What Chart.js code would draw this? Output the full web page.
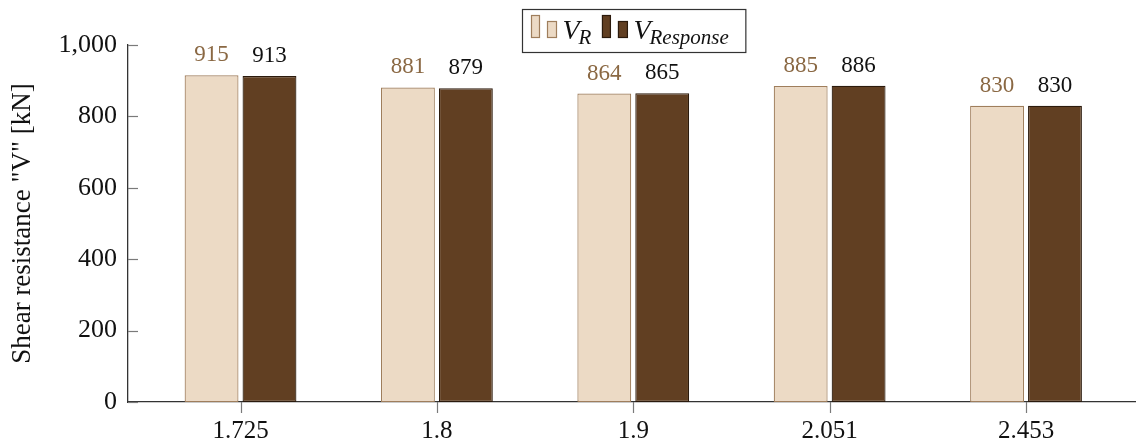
<!DOCTYPE html>
<html>
<head>
<meta charset="utf-8">
<script src="https://cdn.jsdelivr.net/npm/chart.js@4.4.1/dist/chart.umd.min.js"></script>
<style>
    html, body { margin: 0; padding: 0; background: #fff; }
    #chart { display: block; }
</style>
</head>
<body>
<canvas id="chart" width="1137" height="444"></canvas>
<script>
const categories = ['1.725', '1.8', '1.9', '2.051', '2.453']
const vR = [915, 881, 864, 885, 830]
const vResponse = [913, 879, 865, 886, 830]
const yTicks = [0, 200, 400, 600, 800, 1000]

const FONT = "'Liberation Serif', 'Times New Roman', serif"

const light = { fill: '#ecdac5', border: '#9f7e5c', label: '#8a6843' }
const dark = { fill: '#613f22', border: '#2b1a0c', label: '#111111' }

// short ticks: y ticks point into the plot, x ticks hang below the axis
const axisTicks = {
    id: 'axisTicks',
    afterDraw(chart) {
        const { ctx, chartArea, scales } = chart
        ctx.save()
        ctx.strokeStyle = '#7a7a7a'
        ctx.lineWidth = 1.2
        yTicks.forEach(v => {
            const y = Math.round(scales.y.getPixelForValue(v)) + 0.5
            ctx.beginPath()
            ctx.moveTo(chartArea.left, y)
            ctx.lineTo(chartArea.left + 10, y)
            ctx.stroke()
        })
        categories.forEach((_, i) => {
            const x = Math.round(scales.x.getPixelForValue(i)) + 0.5
            ctx.beginPath()
            ctx.moveTo(x, chartArea.bottom)
            ctx.lineTo(x, chartArea.bottom + 11)
            ctx.stroke()
        })
        ctx.restore()
    }
}

// value labels above each bar
const barLabels = {
    id: 'barLabels',
    afterDatasetsDraw(chart) {
        const { ctx } = chart
        ctx.save()
        ctx.font = '23px ' + FONT
        ctx.textAlign = 'center'
        ctx.textBaseline = 'alphabetic'
        chart.data.datasets.forEach((ds, di) => {
            const meta = chart.getDatasetMeta(di)
            ctx.fillStyle = ds.labelColor
            meta.data.forEach((bar, i) => {
                ctx.fillText(String(ds.data[i].y), bar.x, bar.y - 14)
            })
        })
        ctx.restore()
    }
}

// boxed legend with the two-bar glyph and math-style names
const barLegend = {
    id: 'barLegend',
    afterDraw(chart) {
        const { ctx, chartArea } = chart
        const mainFont = 'italic 28px ' + FONT
        const subFont = 'italic 21px ' + FONT
        const entries = chart.data.datasets.map(ds => ({ ds, sub: ds.label.slice(2) }))
        ctx.save()
        const glyphW = 8 + 8 + 9 + 6
        const widths = entries.map(e => {
            ctx.font = mainFont
            const w1 = ctx.measureText('V').width
            ctx.font = subFont
            return glyphW + w1 + ctx.measureText(e.sub).width
        })
        const gap = 10
        const boxW = 9 + widths.reduce((a, b) => a + b, 0) + gap * (entries.length - 1) + 16
        const boxH = 43
        const cx = (chartArea.left + chartArea.right) / 2 + 2
        const bx = Math.round(cx - boxW / 2) + 0.5
        const by = 9.5
        ctx.fillStyle = '#fff'
        ctx.fillRect(bx, by, boxW, boxH)
        ctx.strokeStyle = '#333'
        ctx.lineWidth = 1.2
        ctx.strokeRect(bx, by, boxW, boxH)

        let x = bx + 9
        const base = by + 28
        entries.forEach((e, i) => {
            const ds = e.ds
            ctx.fillStyle = ds.backgroundColor
            ctx.strokeStyle = ds.borderColor
            ctx.lineWidth = 1.2
            ctx.fillRect(x, base - 22, 8, 22)
            ctx.strokeRect(x, base - 22, 8, 22)
            ctx.fillRect(x + 16, base - 16, 9, 16)
            ctx.strokeRect(x + 16, base - 16, 9, 16)
            let tx = x + glyphW
            ctx.fillStyle = '#111'
            ctx.textBaseline = 'alphabetic'
            ctx.textAlign = 'left'
            ctx.font = mainFont
            ctx.fillText('V', tx, base + 1)
            tx += ctx.measureText('V').width - 1
            ctx.font = subFont
            ctx.fillText(e.sub, tx, base + 6)
            x += widths[i] + gap
        })
        ctx.restore()
    }
}

new Chart(document.getElementById('chart'), {
    type: 'bar',
    data: {
        datasets: [
            {
                label: 'V_R',
                data: vR.map((y, x) => ({ x, y })),
                backgroundColor: light.fill,
                borderColor: light.border,
                labelColor: light.label,
                borderWidth: 1.2,
                borderSkipped: false
            },
            {
                label: 'V_Response',
                data: vResponse.map((y, x) => ({ x, y })),
                backgroundColor: dark.fill,
                borderColor: dark.border,
                labelColor: dark.label,
                borderWidth: 1.2,
                borderSkipped: false
            }
        ]
    },
    options: {
        responsive: false,
        animation: false,
        devicePixelRatio: 1,
        categoryPercentage: 0.59,
        barPercentage: 0.93,
        layout: { padding: { top: 45, right: 2, left: 0, bottom: 0 } },
        plugins: {
            legend: { display: false },
            tooltip: { enabled: false }
        },
        scales: {
            x: {
                type: 'linear',
                offset: false,
                min: -0.573,
                max: 4.555,
                afterBuildTicks: axis => {
                    axis.ticks = categories.map((_, i) => ({ value: i }))
                },
                afterFit: axis => { axis.height = 42 },
                ticks: {
                    callback: v => categories[v],
                    font: { family: FONT, size: 25 },
                    color: '#111',
                    padding: 6,
                    maxRotation: 0
                },
                grid: { display: false, offset: false },
                border: { color: '#333', width: 1.3 }
            },
            y: {
                min: 0,
                max: 1000,
                afterBuildTicks: axis => {
                    axis.ticks = yTicks.map(value => ({ value }))
                },
                afterFit: axis => { axis.width = 128 },
                ticks: {
                    callback: v => v.toLocaleString('en-US'),
                    font: { family: FONT, size: 26 },
                    color: '#111',
                    padding: 11
                },
                grid: { display: false, drawTicks: false },
                border: { display: true, color: '#333', width: 1.3 },
                title: {
                    display: true,
                    text: 'Shear resistance "V" [kN]',
                    font: { family: FONT, size: 27 },
                    color: '#111',
                    padding: { top: 7, bottom: 0 }
                }
            }
        }
    },
    plugins: [axisTicks, barLabels, barLegend]
})
</script>
</body>
</html>
